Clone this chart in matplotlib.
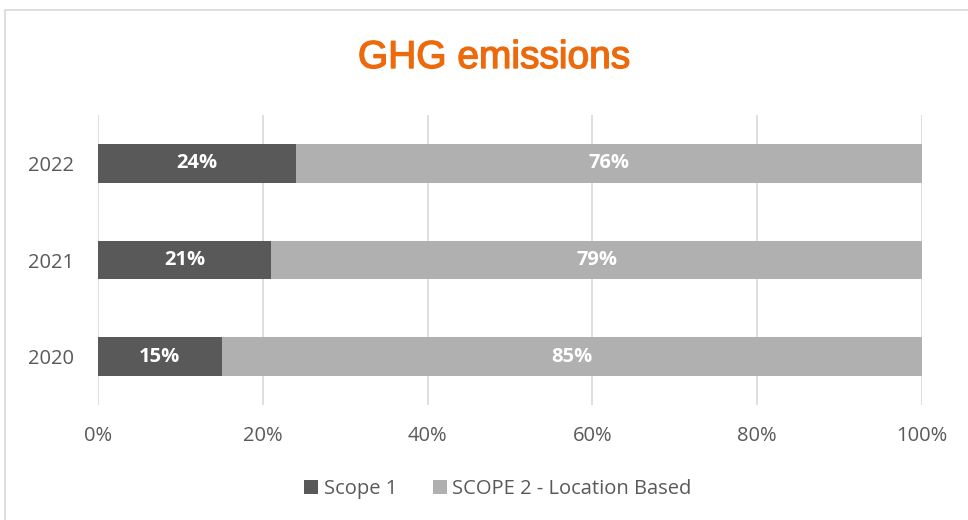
import matplotlib
matplotlib.use("Agg")
import matplotlib.pyplot as plt
import matplotlib.patheffects as pe
from matplotlib.patches import Rectangle
from matplotlib.ticker import FuncFormatter

years = ["2020", "2021", "2022"]
scope1 = [15, 21, 24]
scope2 = [85, 79, 76]
series_names = ["Scope 1", "SCOPE 2 - Location Based"]
colors = ["#595959", "#B0B0B0"]
title = "GHG emissions"

plt.rcParams['font.family'] = ['Open Sans', 'DejaVu Sans']

fig = plt.figure(figsize=(9.68, 5.2), dpi=100)
W, H = 968, 520
ax = fig.add_axes([98 / W, 1 - 405 / H, (922 - 98) / W, (405 - 115) / H])

y = list(range(len(years)))
b1 = ax.barh(y, scope1, height=0.4, color=colors[0], label=series_names[0])
b2 = ax.barh(y, scope2, left=scope1, height=0.4, color=colors[1], label=series_names[1])

for bars, vals, lefts in [(b1, scope1, [0] * 3), (b2, scope2, scope1)]:
    for yi, v, l in zip(y, vals, lefts):
        ax.text(l + v / 2, yi, f"{v}%", ha="center", va="center",
                color="white", fontsize=14.5, fontweight="bold")

ax.set_xlim(0, 100)
ax.set_ylim(-0.5, 2.5)
ax.set_xticks([0, 20, 40, 60, 80, 100])
ax.xaxis.set_major_formatter(FuncFormatter(lambda v, p: f"{int(v)}%"))
ax.set_yticks(y)
ax.set_yticklabels(years)
ax.tick_params(axis="both", length=0, labelsize=14.5, labelcolor="#595959")
ax.tick_params(axis="x", pad=15)
ax.tick_params(axis="y", pad=17)
ax.grid(axis="x", color="#D9D9D9", linewidth=1.2)
ax.set_axisbelow(True)
for s in ax.spines.values():
    s.set_visible(False)

fig.text(494 / W, 1 - 58 / H, title, ha="center", va="center",
         fontsize=28, color="#EC6A0C",
         family=["Liberation Sans", "DejaVu Sans"],
         path_effects=[pe.withStroke(linewidth=1.0, foreground="#EC6A0C")])

# chart border
fig.patches.append(Rectangle((5 / W, -0.1), 1.2, 1 - 10 / H + 0.1,
                             transform=fig.transFigure, fill=False,
                             edgecolor="#D9D9D9", linewidth=1.2))

leg = fig.legend(handles=[b1, b2], labels=series_names, loc="center",
                 bbox_to_anchor=(498 / W, 1 - 489 / H), ncol=2, frameon=False,
                 fontsize=14.5, handlelength=0.7, handleheight=0.7,
                 handletextpad=0.25, columnspacing=1.8)
for t in leg.get_texts():
    t.set_color("#595959")

fig.savefig("out.png", dpi=100)
